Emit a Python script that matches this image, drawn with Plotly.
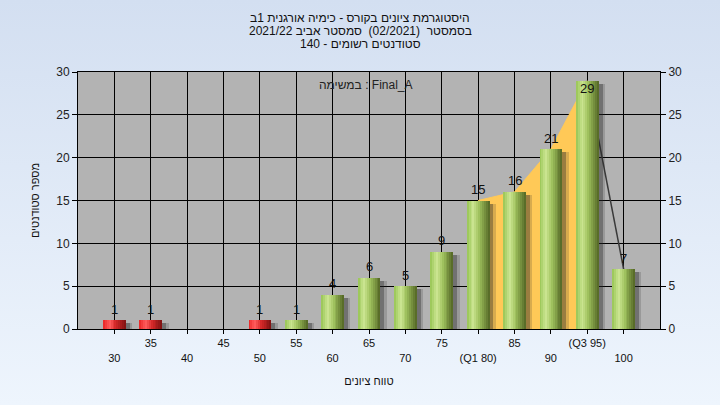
import base64
import plotly.graph_objects as go

# ---------------- data ----------------
categories = [30, 35, 40, 45, 50, 55, 60, 65, 70, 75, 80, 85, 90, 95, 100]
tick_labels = ["30", "35", "40", "45", "50", "55", "60", "65", "70", "75",
               "(Q1 80)", "85", "90", "(Q3 95)", "100"]
counts = [1, 1, 0, 0, 1, 1, 4, 6, 5, 9, 15, 16, 21, 29, 7]
pass_grade = 55
q1, q3 = 80, 95

title_lines = ["היסטוגרמת ציונים בקורס - כימיה אורגנית 1ב",
               "בסמסטר  (02/2021)  סמסטר אביב 2021/22",
               "סטודנטים רשומים - 140"]
legend_text = "במשימה : Final_A"
x_title = "טווח ציונים"
y_title = "מספר סטודנטים"

# ---------------- styling helpers ----------------
FONT = "Arial, 'Liberation Sans', 'DejaVu Sans', sans-serif"
BAR_W = 3.1
N_STRIPS = 12
L, R, T, B = 78, 60, 72, 76
PW, PH = 720 - L - R, 405 - T - B

green_stops = [(0.0, (150, 196, 82)), (0.28, (204, 230, 146)), (0.55, (158, 192, 92)), (1.0, (82, 100, 36))]
red_stops = [(0.0, (232, 36, 36)), (0.28, (255, 92, 92)), (0.55, (212, 40, 40)), (1.0, (125, 18, 18))]


def interp(stops, t):
    for (p0, c0), (p1, c1) in zip(stops[:-1], stops[1:]):
        if p0 <= t <= p1:
            f = (t - p0) / (p1 - p0)
            return "rgb(%d,%d,%d)" % tuple(round(a + (b - a) * f) for a, b in zip(c0, c1))
    return "rgb(%d,%d,%d)" % stops[-1][1]


def py(ypx):
    """pixel row -> paper y"""
    return 1 + (T - ypx) / PH


fig = go.Figure()

# orange area between Q1 and Q3 + dark line after Q3 (main subplot, below bars)
area_x = [c for c in categories if q1 <= c <= q3]
area_y = [v for c, v in zip(categories, counts) if q1 <= c <= q3]
fig.add_trace(go.Scatter(x=area_x, y=area_y, mode="lines", fill="tozeroy",
                         fillcolor="#ffc957", line=dict(color="#ffc957", width=1),
                         hoverinfo="skip", showlegend=False))
tail_x = [c for c in categories if c >= q3]
tail_y = [v for c, v in zip(categories, counts) if c >= q3]
fig.add_trace(go.Scatter(x=tail_x, y=tail_y, mode="lines",
                         line=dict(color="#3a3a3a", width=1.5),
                         hoverinfo="skip", showlegend=False))

# shadows (overlay subplot on right axis -> drawn above the area)
for off, extra, col in [(0.35, 0.9, "rgba(40,40,40,0.18)"), (0.25, 0.55, "rgba(40,40,40,0.35)")]:
    fig.add_trace(go.Bar(x=categories, y=counts, base=-0.35, yaxis="y2",
                         width=BAR_W + extra - off, offset=-BAR_W / 2 + off,
                         marker=dict(color=col, line=dict(width=0)),
                         hoverinfo="skip", showlegend=False))

# cylinder-like bars made of vertical strips
for i in range(N_STRIPS):
    t = (i + 0.5) / N_STRIPS
    colors = [interp(red_stops if c < pass_grade else green_stops, t) for c in categories]
    fig.add_trace(go.Bar(x=categories, y=counts, yaxis="y2",
                         width=BAR_W / N_STRIPS + 0.02,
                         offset=-BAR_W / 2 + i * BAR_W / N_STRIPS,
                         marker=dict(color=colors, line=dict(width=0)),
                         hoverinfo="skip", showlegend=False))

# value labels
annotations = []
for c, v in zip(categories, counts):
    if v > 0:
        annotations.append(dict(x=c, y=v, xref="x", yref="y", text=str(v), showarrow=False,
                                yanchor="middle", yshift=-8 if v > 27 else 11,
                                font=dict(family=FONT, size=13, color="#111")))

# title lines
for ypx, line in zip([18, 31, 44], title_lines):
    annotations.append(dict(text=line, xref="paper", yref="paper", x=(360 - L) / PW, y=py(ypx),
                            xanchor="center", yanchor="middle", showarrow=False,
                            font=dict(family=FONT, size=12, color="#111")))

annotations.append(dict(text=legend_text, xref="paper", yref="paper", x=0.495, y=py(85),
                        yanchor="middle", showarrow=False, font=dict(family=FONT, size=12, color="#222")))

ticktext = [("<br>" + t) if i % 2 == 0 else t for i, t in enumerate(tick_labels)]

svg = ('<svg xmlns="http://www.w3.org/2000/svg" width="720" height="405">'
       '<defs><linearGradient id="g" x1="0" y1="0" x2="0" y2="1">'
       '<stop offset="0" stop-color="#d3dff1"/><stop offset="1" stop-color="#eef5fd"/>'
       '</linearGradient></defs><rect width="720" height="405" fill="url(#g)"/></svg>')
bg_src = "data:image/svg+xml;base64," + base64.b64encode(svg.encode()).decode()

fig.update_layout(
    width=720, height=405,
    margin=dict(l=L, r=R, t=T, b=B),
    paper_bgcolor="#e2ebf7", plot_bgcolor="#b3b3b3",
    barmode="overlay", bargap=0,
    font=dict(family=FONT, color="#222"),
    hovermode=False,
    images=[dict(source=bg_src, xref="paper", yref="paper", x=-L / PW, y=1 + T / PH,
                 sizex=720 / PW, sizey=405 / PH, xanchor="left", yanchor="top",
                 sizing="stretch", layer="below")],
    shapes=[dict(type="rect", xref="paper", yref="paper", x0=0, x1=1, y0=0, y1=1,
                 fillcolor="#b3b3b3", line=dict(width=0), layer="below")],
    xaxis=dict(range=[25, 105], tickmode="array", tickvals=categories, ticktext=ticktext,
               showgrid=True, gridcolor="black", gridwidth=1, zeroline=False,
               ticks="outside", ticklen=4, tickcolor="black",
               showline=True, linecolor="black", linewidth=1, mirror=True,
               tickfont=dict(family=FONT, size=11, color="#111"),
               title=dict(text=x_title, font=dict(family=FONT, size=11, color="#111"), standoff=14)),
    yaxis=dict(range=[0, 30], dtick=5, showgrid=True, gridcolor="black", gridwidth=1,
               zeroline=False, ticks="outside", ticklen=5, tickcolor="black",
               showline=True, linecolor="black", linewidth=1,
               tickfont=dict(family=FONT, size=12, color="#222"),
               title=dict(text=y_title, font=dict(family=FONT, size=11, color="#111"), standoff=14)),
    yaxis2=dict(range=[0, 30], dtick=5, overlaying="y", side="right", showgrid=False,
                zeroline=False, ticks="outside", ticklen=5, tickcolor="black",
                showline=True, linecolor="black", linewidth=1,
                tickfont=dict(family=FONT, size=12, color="#222")),
    annotations=annotations,
)

fig.write_html("out.html", config={"displayModeBar": False, "staticPlot": True},
               post_script="document.body.style.margin='0';document.body.style.overflow='hidden';")
